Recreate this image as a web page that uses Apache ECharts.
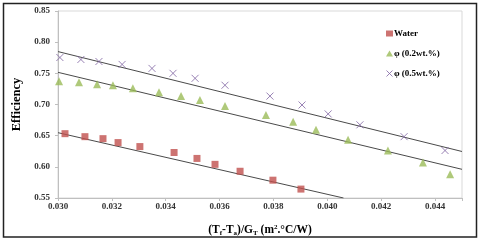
<!DOCTYPE html>
<html><head><meta charset="utf-8">
<script src="https://cdn.jsdelivr.net/npm/echarts@6/dist/echarts.min.js"></script>
<style>html,body{margin:0;padding:0;background:#fff}#c{width:480px;height:242px}</style>
</head><body><div id="c"></div>
<script>
// Data
const waterX = [0.03026,0.0310,0.03167,0.03223,0.03304,0.03431,0.03516,0.03583,0.03676,0.03798,0.03902];
const waterY = [0.6532,0.6484,0.6452,0.6389,0.6325,0.623,0.6135,0.604,0.5929,0.5786,0.5643];
const phi02X = [0.03004,0.03078,0.03145,0.03204,0.03278,0.03375,0.03457,0.03527,0.0362,0.03772,0.03873,0.03958,0.04077,0.04225,0.04355,0.04456];
const phi02Y = [0.7373,0.7357,0.7325,0.7309,0.7262,0.7198,0.7135,0.7071,0.6976,0.6833,0.6722,0.6595,0.6436,0.6262,0.6071,0.5881];
const phi05X = [0.03007,0.03085,0.03152,0.03238,0.03349,0.03427,0.03509,0.0362,0.03787,0.03906,0.04003,0.04121,0.04285,0.04437];
const phi05Y = [0.7754,0.7722,0.769,0.7643,0.7579,0.75,0.742,0.7309,0.7135,0.6992,0.6849,0.6674,0.6484,0.6262];
// Linear trend line end points
const trendWater = [[0.030,0.6548],[0.0406,0.55]];
const trend02 = [[0.030,0.7516],[0.045,0.596]];
const trend05 = [[0.030,0.7849],[0.045,0.6246]];
const seriesNames = ['Water','φ (0.2wt.%)','φ (0.5wt.%)'];
const xTicks = {min:0.030,max:0.045,interval:0.002};
const yTicks = {min:0.55,max:0.85,interval:0.05};

const zip = (a,b)=>a.map((v,i)=>[v,b[i]]);
const font = 'Liberation Serif';
const crossPath = 'path://M0,0L10,10M10,0L0,10';
const trendStyle = {type:'line',symbol:'none',silent:true,lineStyle:{color:'#4a4a4a',width:1},z:1};

const chart = echarts.init(document.getElementById('c'),null,{renderer:'canvas'});
chart.setOption({
  animation:false,
  backgroundColor:'#fff',
  grid:{left:58,right:18,top:11,bottom:42,show:true,borderColor:'#d9d9d9',borderWidth:1},
  graphic:[{type:'rect',shape:{x:3.5,y:3.5,width:473,height:233.5},style:{fill:'none',stroke:'#222',lineWidth:1.5},z:100}],
  legend:{
    orient:'vertical',left:381,top:24,itemGap:11,itemWidth:7,itemHeight:6,
    textStyle:{fontFamily:font,fontWeight:'bold',fontSize:9,color:'#000',padding:[0,0,0,-4]},
    data:[
      {name:seriesNames[0],icon:'rect'},
      {name:seriesNames[1],icon:'triangle'},
      {name:seriesNames[2],icon:crossPath,itemStyle:{color:'transparent',borderColor:'#8064a2',borderWidth:1}}
    ]
  },
  xAxis:{
    type:'value',min:xTicks.min,max:xTicks.max,interval:xTicks.interval,
    axisLine:{show:true,lineStyle:{color:'#bfbfbf'}},
    axisTick:{show:true,length:3,lineStyle:{color:'#bfbfbf'}},
    splitLine:{show:false},
    axisLabel:{fontFamily:font,fontWeight:'bold',fontSize:9,color:'#333',margin:4,
      formatter:v=> v>0.0445?'':v.toFixed(3)},
    name:'(T{sub|f}-T{sub|a})/G{sub|T} (m{sup|2}.°C/W)',
    nameLocation:'middle',nameGap:26,
    nameTextStyle:{fontFamily:font,fontWeight:'bold',fontSize:11.5,color:'#000',
      rich:{sub:{fontFamily:font,fontWeight:'bold',fontSize:7,color:'#000',padding:[6,0,0,0]},
            sup:{fontFamily:font,fontWeight:'bold',fontSize:7,color:'#000',padding:[0,0,6,0]}}}
  },
  yAxis:{
    type:'value',min:yTicks.min,max:yTicks.max,interval:yTicks.interval,
    axisLine:{show:true,lineStyle:{color:'#bfbfbf'}},
    axisTick:{show:true,length:3,lineStyle:{color:'#bfbfbf'}},
    splitLine:{show:false},
    axisLabel:{fontFamily:font,fontWeight:'bold',fontSize:9,color:'#333',margin:8,formatter:v=>v.toFixed(2)},
    name:'Efficiency',nameLocation:'middle',nameGap:34,nameRotate:90,
    nameTextStyle:{fontFamily:font,fontWeight:'bold',fontSize:12.5,color:'#000'}
  },
  series:[
    Object.assign({name:'tw',data:trendWater},trendStyle),
    Object.assign({name:'t2',data:trend02},trendStyle),
    Object.assign({name:'t5',data:trend05},trendStyle),
    {name:seriesNames[0],type:'scatter',data:zip(waterX,waterY),symbol:'rect',symbolSize:7,
      itemStyle:{color:'#c0504d'},z:3},
    {name:seriesNames[1],type:'scatter',data:zip(phi02X,phi02Y),symbol:'triangle',symbolSize:8,
      itemStyle:{color:'#9bbb59'},z:3},
    {name:seriesNames[2],type:'scatter',data:zip(phi05X,phi05Y),symbol:crossPath,symbolSize:7,
      itemStyle:{color:'transparent',borderColor:'#8064a2',borderWidth:1},z:3}
  ]
});
</script></body></html>
